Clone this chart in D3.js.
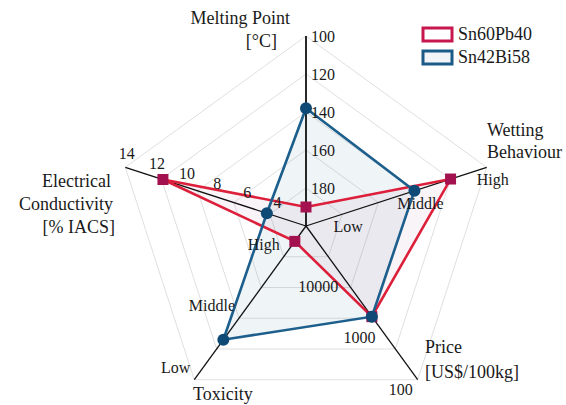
<!DOCTYPE html>
<html>
<head>
<meta charset="utf-8">
<script src="https://cdn.jsdelivr.net/npm/d3@7"></script>
<style>
  html, body { margin: 0; padding: 0; background: #fff; }
  svg { display: block; font-family: "Liberation Serif", "Times New Roman", serif; }
</style>
</head>
<body>
<svg id="chart" width="566" height="405"></svg>
<script>
// Axis names (clockwise from the top)
const axisNames = ["Melting Point", "Wetting Behaviour", "Price", "Toxicity", "Electrical Conductivity"];

// Series values, in axis order
const seriesNames = ["Sn60Pb40", "Sn42Bi58"];
const sn60pb40 = [190, 4, 1700, 0.5, 11.5];
const sn42bi58 = [138, 3, 1700, 3.7, 4.6];

// Tick labels per axis
const meltingTicks = [100, 120, 140, 160, 180];
const wettingTickValues = [1, 3, 5];
const wettingTickLabels = ["Low", "Middle", "High"];
const priceTicks = [10000, 1000, 100];
const toxicityTickValues = [1, 3, 5];
const toxicityTickLabels = ["High", "Middle", "Low"];
const conductivityTicks = [4, 6, 8, 10, 12, 14];

const svg = d3.select("#chart");
const cx = 306, cy = 226, R = 190;
const ringCount = 5;

// One radial scale per axis
const scales = [
  d3.scaleLinear().domain([200, 100]).range([0, R]),
  d3.scaleLinear().domain([0, 5]).range([0, R]),
  d3.scaleLog().domain([100000, 100]).range([0, R]),
  d3.scaleLinear().domain([0, 5]).range([0, R]),
  d3.scaleLinear().domain([2, 14]).range([0, R])
];
const angles = axisNames.map((d, i) => (-90 + i * 72) * Math.PI / 180);
const pt = (i, r) => [cx + r * Math.cos(angles[i]), cy + r * Math.sin(angles[i])];

// Concentric pentagon grid
const ringScale = d3.scaleLinear().domain([0, ringCount]).range([0, R]);
const gridG = svg.append("g");
d3.range(1, ringCount + 1).forEach(k => {
  const r = ringScale(k);
  gridG.append("polygon")
    .attr("points", angles.map((a, i) => pt(i, r).join(",")).join(" "))
    .attr("fill", "none")
    .attr("stroke", "#e0e0e0")
    .attr("stroke-width", 1);
});

// Series styling
const series = [
  { name: seriesNames[0], values: sn60pb40, line: "#dc1f3a", legend: "#c8174f", marker: "#a3124f", fill: "rgba(160,90,150,0.065)", shape: "square" },
  { name: seriesNames[1], values: sn42bi58, line: "#1d5f8c", legend: "#1b5b87", marker: "#0e4a75", fill: "rgba(31,93,140,0.07)", shape: "circle" }
];
const polyPoints = s => s.values.map((v, i) => pt(i, scales[i](v)));

// Area fills (blue underneath)
[series[1], series[0]].forEach(s => {
  svg.append("polygon")
    .attr("points", polyPoints(s).map(p => p.join(",")).join(" "))
    .attr("fill", s.fill)
    .attr("stroke", "none");
});

// Axis lines
const axisG = svg.append("g");
angles.forEach((a, i) => {
  const [x2, y2] = pt(i, R);
  axisG.append("line")
    .attr("x1", cx).attr("y1", cy).attr("x2", x2).attr("y2", y2)
    .attr("stroke", "#111")
    .attr("stroke-width", i === 0 ? 1.8 : 1.3);
});

// Series outlines and markers
series.forEach(s => {
  const pts = polyPoints(s);
  svg.append("path")
    .attr("d", d3.line().curve(d3.curveLinearClosed)(pts))
    .attr("fill", "none")
    .attr("stroke", s.line)
    .attr("stroke-width", 2.6)
    .attr("stroke-linejoin", "miter");
});
series.forEach(s => {
  const pts = polyPoints(s);
  const g = svg.append("g");
  pts.forEach(p => {
    if (s.shape === "square") {
      g.append("rect")
        .attr("x", p[0] - 5.5).attr("y", p[1] - 5.5)
        .attr("width", 11).attr("height", 11)
        .attr("fill", s.marker);
    } else {
      g.append("circle")
        .attr("cx", p[0]).attr("cy", p[1]).attr("r", 6)
        .attr("fill", s.marker);
    }
  });
});

// Tick labels
const tickG = svg.append("g").attr("font-size", 16).attr("fill", "#1a1a1a");
meltingTicks.forEach(v => {
  const [x, y] = pt(0, scales[0](v));
  tickG.append("text").attr("x", x + 5).attr("y", y + 6).text(v);
});
wettingTickValues.forEach((v, k) => {
  const [x, y] = pt(1, scales[1](v));
  tickG.append("text").attr("x", x + 6).attr("y", y + 18)
    .attr("text-anchor", "middle").text(wettingTickLabels[k]);
});
priceTicks.forEach(v => {
  const [x, y] = pt(2, scales[2](v));
  tickG.append("text").attr("x", x - 5).attr("y", y + 15)
    .attr("text-anchor", "end").text(v);
});
toxicityTickValues.forEach((v, k) => {
  const [x, y] = pt(3, scales[3](v));
  tickG.append("text").attr("x", x - 4).attr("y", y - 7)
    .attr("text-anchor", "end").text(toxicityTickLabels[k]);
});
conductivityTicks.forEach(v => {
  const [x, y] = pt(4, scales[4](v));
  tickG.append("text").attr("x", x + 1.5).attr("y", y - 8)
    .attr("text-anchor", "middle").text(v);
});

// Axis titles
const titleG = svg.append("g").attr("font-size", 18).attr("fill", "#1a1a1a");
const titles = [
  { lines: ["Melting Point", "[°C]"], xs: [290, 277], ys: [24, 47], anchor: "end" },
  { lines: ["Wetting", "Behaviour"], xs: [487, 487], ys: [136, 158], anchor: "start" },
  { lines: ["Price", "[US$/100kg]"], xs: [425, 425], ys: [353, 378], anchor: "start" },
  { lines: ["Toxicity"], xs: [193], ys: [400], anchor: "start" },
  { lines: ["Electrical", "Conductivity", "[% IACS]"], xs: [111, 113, 115], ys: [187, 210, 233], anchor: "end" }
];
titles.forEach(t => {
  t.lines.forEach((l, k) => {
    titleG.append("text").attr("x", t.xs[k]).attr("y", t.ys[k])
      .attr("text-anchor", t.anchor).text(l);
  });
});

// Legend
const legendG = svg.append("g").attr("transform", "translate(423,28)");
series.forEach((s, k) => {
  const row = legendG.append("g").attr("transform", `translate(0,${k * 23})`);
  row.append("rect")
    .attr("x", 0).attr("y", 0).attr("width", 29).attr("height", 13)
    .attr("fill", k === 0 ? "#fff" : "#f2f5f8")
    .attr("stroke", s.legend).attr("stroke-width", 3);
  row.append("text")
    .attr("x", 35).attr("y", 11.5)
    .attr("font-size", 18).attr("fill", "#1a1a1a")
    .text(s.name);
});
</script>
</body>
</html>
